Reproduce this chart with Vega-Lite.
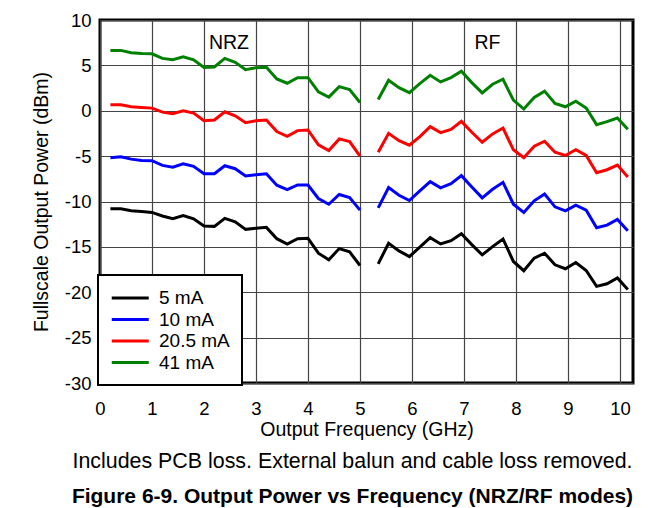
{
  "$schema": "https://vega.github.io/schema/vega-lite/v6.json",
  "width": 533,
  "height": 363,
  "autosize": "none",
  "padding": {"left": 100, "top": 20, "right": 30, "bottom": 125},
  "background": "white",
  "config": {
    "font": "Liberation Sans",
    "view": {"stroke": "black", "strokeWidth": 3}
  },
  "title": {
    "text": "Includes PCB loss. External balun and cable loss removed.",
    "subtitle": "Figure 6-9. Output Power vs Frequency (NRZ/RF modes)",
    "orient": "bottom",
    "anchor": "middle",
    "dx": -14,
    "offset": 12,
    "fontSize": 21.4,
    "fontWeight": "normal",
    "color": "black",
    "subtitleFontSize": 21,
    "subtitleFontWeight": "bold",
    "subtitleColor": "black",
    "subtitlePadding": 14
  },
  "layer": [
    {
      "data": {
        "values": [
          {"f": 0.2, "m": "NRZ", "5 mA": -10.81, "10 mA": -5.18, "20_5 mA": 0.66, "41 mA": 6.65},
          {"f": 0.4, "m": "NRZ", "5 mA": -10.81, "10 mA": -5.07, "20_5 mA": 0.66, "41 mA": 6.65},
          {"f": 0.6, "m": "NRZ", "5 mA": -11.03, "10 mA": -5.33, "20_5 mA": 0.44, "41 mA": 6.39},
          {"f": 0.8, "m": "NRZ", "5 mA": -11.1, "10 mA": -5.48, "20_5 mA": 0.36, "41 mA": 6.32},
          {"f": 1.0, "m": "NRZ", "5 mA": -11.2, "10 mA": -5.51, "20_5 mA": 0.29, "41 mA": 6.28},
          {"f": 1.2, "m": "NRZ", "5 mA": -11.6, "10 mA": -6.02, "20_5 mA": -0.15, "41 mA": 5.77},
          {"f": 1.4, "m": "NRZ", "5 mA": -11.9, "10 mA": -6.21, "20_5 mA": -0.33, "41 mA": 5.62},
          {"f": 1.6, "m": "NRZ", "5 mA": -11.54, "10 mA": -5.84, "20_5 mA": 0.0, "41 mA": 5.95},
          {"f": 1.8, "m": "NRZ", "5 mA": -11.9, "10 mA": -6.13, "20_5 mA": -0.26, "41 mA": 5.62},
          {"f": 2.0, "m": "NRZ", "5 mA": -12.7, "10 mA": -6.94, "20_5 mA": -1.1, "41 mA": 4.78},
          {"f": 2.2, "m": "NRZ", "5 mA": -12.74, "10 mA": -6.94, "20_5 mA": -1.02, "41 mA": 4.82},
          {"f": 2.4, "m": "NRZ", "5 mA": -11.86, "10 mA": -6.06, "20_5 mA": -0.11, "41 mA": 5.77},
          {"f": 2.6, "m": "NRZ", "5 mA": -12.23, "10 mA": -6.39, "20_5 mA": -0.55, "41 mA": 5.33},
          {"f": 2.8, "m": "NRZ", "5 mA": -13.07, "10 mA": -7.19, "20_5 mA": -1.31, "41 mA": 4.53},
          {"f": 3.0, "m": "NRZ", "5 mA": -12.96, "10 mA": -7.05, "20_5 mA": -1.1, "41 mA": 4.75},
          {"f": 3.2, "m": "NRZ", "5 mA": -12.85, "10 mA": -6.94, "20_5 mA": -1.02, "41 mA": 4.78},
          {"f": 3.4, "m": "NRZ", "5 mA": -14.1, "10 mA": -8.21, "20_5 mA": -2.3, "41 mA": 3.5},
          {"f": 3.6, "m": "NRZ", "5 mA": -14.68, "10 mA": -8.69, "20_5 mA": -2.81, "41 mA": 3.03},
          {"f": 3.8, "m": "NRZ", "5 mA": -14.1, "10 mA": -8.18, "20_5 mA": -2.19, "41 mA": 3.65},
          {"f": 4.0, "m": "NRZ", "5 mA": -14.06, "10 mA": -8.18, "20_5 mA": -2.12, "41 mA": 3.65},
          {"f": 4.2, "m": "NRZ", "5 mA": -15.7, "10 mA": -9.67, "20_5 mA": -3.76, "41 mA": 2.08},
          {"f": 4.4, "m": "NRZ", "5 mA": -16.43, "10 mA": -10.3, "20_5 mA": -4.38, "41 mA": 1.5},
          {"f": 4.6, "m": "NRZ", "5 mA": -15.19, "10 mA": -9.23, "20_5 mA": -3.1, "41 mA": 2.66},
          {"f": 4.8, "m": "NRZ", "5 mA": -15.55, "10 mA": -9.56, "20_5 mA": -3.4, "41 mA": 2.34},
          {"f": 5.0, "m": "NRZ", "5 mA": -17.05, "10 mA": -10.95, "20_5 mA": -5.0, "41 mA": 0.91},
          {"f": 5.35, "m": "RF", "5 mA": -16.87, "10 mA": -10.7, "20_5 mA": -4.57, "41 mA": 1.24},
          {"f": 5.55, "m": "RF", "5 mA": -14.6, "10 mA": -8.47, "20_5 mA": -2.49, "41 mA": 3.36},
          {"f": 5.75, "m": "RF", "5 mA": -15.44, "10 mA": -9.31, "20_5 mA": -3.29, "41 mA": 2.55},
          {"f": 5.95, "m": "RF", "5 mA": -16.07, "10 mA": -9.89, "20_5 mA": -3.8, "41 mA": 2.0},
          {"f": 6.15, "m": "RF", "5 mA": -15.04, "10 mA": -8.84, "20_5 mA": -2.85, "41 mA": 2.99},
          {"f": 6.35, "m": "RF", "5 mA": -13.99, "10 mA": -7.81, "20_5 mA": -1.75, "41 mA": 3.91},
          {"f": 6.55, "m": "RF", "5 mA": -14.68, "10 mA": -8.5, "20_5 mA": -2.41, "41 mA": 3.18},
          {"f": 6.75, "m": "RF", "5 mA": -14.32, "10 mA": -8.03, "20_5 mA": -2.05, "41 mA": 3.65},
          {"f": 6.95, "m": "RF", "5 mA": -13.55, "10 mA": -7.15, "20_5 mA": -1.17, "41 mA": 4.35},
          {"f": 7.15, "m": "RF", "5 mA": -14.75, "10 mA": -8.4, "20_5 mA": -2.37, "41 mA": 3.1},
          {"f": 7.35, "m": "RF", "5 mA": -15.88, "10 mA": -9.6, "20_5 mA": -3.47, "41 mA": 1.97},
          {"f": 7.55, "m": "RF", "5 mA": -14.97, "10 mA": -8.65, "20_5 mA": -2.55, "41 mA": 2.92},
          {"f": 7.75, "m": "RF", "5 mA": -14.13, "10 mA": -7.89, "20_5 mA": -1.9, "41 mA": 3.47},
          {"f": 7.95, "m": "RF", "5 mA": -16.61, "10 mA": -10.3, "20_5 mA": -4.3, "41 mA": 1.17},
          {"f": 8.15, "m": "RF", "5 mA": -17.63, "10 mA": -11.2, "20_5 mA": -5.18, "41 mA": 0.19},
          {"f": 8.35, "m": "RF", "5 mA": -16.24, "10 mA": -9.93, "20_5 mA": -3.91, "41 mA": 1.46},
          {"f": 8.55, "m": "RF", "5 mA": -15.7, "10 mA": -9.17, "20_5 mA": -3.36, "41 mA": 2.16},
          {"f": 8.75, "m": "RF", "5 mA": -16.98, "10 mA": -10.59, "20_5 mA": -4.57, "41 mA": 0.8},
          {"f": 8.95, "m": "RF", "5 mA": -17.41, "10 mA": -11.03, "20_5 mA": -4.93, "41 mA": 0.44},
          {"f": 9.15, "m": "RF", "5 mA": -16.72, "10 mA": -10.4, "20_5 mA": -4.3, "41 mA": 1.06},
          {"f": 9.35, "m": "RF", "5 mA": -17.6, "10 mA": -10.95, "20_5 mA": -4.93, "41 mA": 0.3},
          {"f": 9.55, "m": "RF", "5 mA": -19.35, "10 mA": -12.89, "20_5 mA": -6.83, "41 mA": -1.53},
          {"f": 9.75, "m": "RF", "5 mA": -19.06, "10 mA": -12.6, "20_5 mA": -6.5, "41 mA": -1.2},
          {"f": 9.95, "m": "RF", "5 mA": -18.43, "10 mA": -11.97, "20_5 mA": -5.99, "41 mA": -0.8},
          {"f": 10.15, "m": "RF", "5 mA": -19.7, "10 mA": -13.22, "20_5 mA": -7.3, "41 mA": -2.05}
        ]
      },
      "transform": [
        {"fold": ["5 mA", "10 mA", "20_5 mA", "41 mA"], "as": ["current", "power"]}
      ],
      "mark": {"type": "line", "strokeWidth": 3, "strokeJoin": "miter", "strokeCap": "butt"},
      "encoding": {
        "x": {
          "field": "f",
          "type": "quantitative",
          "scale": {"domain": [0, 10.25], "nice": false, "zero": false},
          "axis": {
            "title": "Output Frequency (GHz)",
            "values": [0, 1, 2, 3, 4, 5, 6, 7, 8, 9, 10],
            "labelExpr": "'' + datum.value",
            "ticks": false,
            "domain": false,
            "labelFontSize": 18.5,
            "labelColor": "black",
            "labelPadding": 16,
            "labelFlush": false,
            "titleFontSize": 19.5,
            "titleFontWeight": "normal",
            "titleColor": "black",
            "titlePadding": 3,
            "grid": true,
            "gridColor": "#444",
            "gridWidth": 1.2,
            "gridOpacity": 1
          }
        },
        "y": {
          "field": "power",
          "type": "quantitative",
          "scale": {"domain": [-30, 10], "nice": false, "zero": false},
          "axis": {
            "title": "Fullscale Output Power (dBm)",
            "values": [-30, -25, -20, -15, -10, -5, 0, 5, 10],
            "labelExpr": "'' + datum.value",
            "ticks": false,
            "domain": false,
            "labelFontSize": 18.5,
            "labelColor": "black",
            "labelPadding": 9,
            "labelFlush": false,
            "titleFontSize": 19.5,
            "titleFontWeight": "normal",
            "titleColor": "black",
            "titlePadding": 13,
            "grid": true,
            "gridColor": "#444",
            "gridWidth": 1.2,
            "gridOpacity": 1
          }
        },
        "color": {
          "field": "current",
          "type": "nominal",
          "scale": {
            "domain": ["5 mA", "10 mA", "20_5 mA", "41 mA"],
            "range": ["#000000", "#0000ff", "#ff0000", "#008000"]
          },
          "legend": {
            "title": null,
            "orient": "none",
            "legendX": -2,
            "legendY": 255,
            "fillColor": "white",
            "strokeColor": "black",
            "padding": 12,
            "symbolType": "M-1,0H3",
            "symbolSize": 342,
            "symbolStrokeWidth": 3,
            "labelFontSize": 19,
            "labelColor": "black",
            "labelOffset": 27,
            "labelExpr": "replace(datum.label, '_', '.')",
            "rowPadding": 0.5,
            "encode": {"legend": {"update": {"strokeWidth": {"value": 2}}}}
          }
        },
        "detail": {"field": "m", "type": "nominal"}
      }
    },
    {
      "data": {
        "values": [
          {"label": "NRZ", "f": 2.48, "p": 7.45},
          {"label": "RF", "f": 7.45, "p": 7.45}
        ]
      },
      "mark": {"type": "text", "fontSize": 19.5, "color": "black"},
      "encoding": {
        "x": {"field": "f", "type": "quantitative"},
        "y": {"field": "p", "type": "quantitative"},
        "text": {"field": "label"}
      }
    }
  ]
}
